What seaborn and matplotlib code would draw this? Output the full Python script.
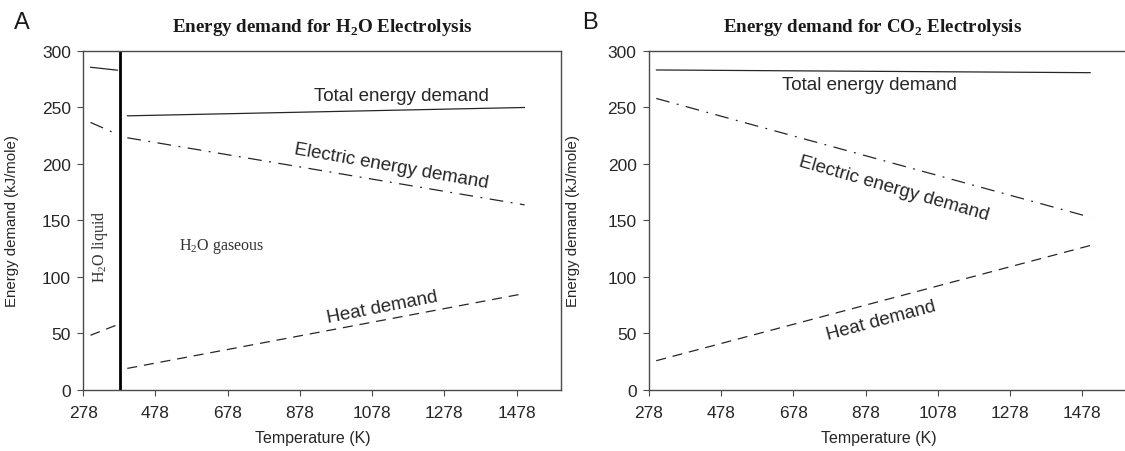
import matplotlib
matplotlib.use("Agg")
import matplotlib.pyplot as plt
import seaborn as sns
import pandas as pd

# ---- data (temperature in K, energy in kJ/mole) ----
h2o_liq_T = [298, 373]
h2o_liq_total = [285.6, 283.0]
h2o_liq_electric = [236.8, 226.2]
h2o_liq_heat = [48.4, 57.8]

h2o_gas_T = [400, 1500]
h2o_gas_total = [242.6, 250.0]
h2o_gas_electric = [223.2, 163.8]
h2o_gas_heat = [19.1, 85.4]

co2_T = [298, 1500]
co2_total = [283.2, 280.8]
co2_electric = [258.0, 152.9]
co2_heat = [25.9, 127.9]

phase_boundary_T = 380

x_ticks = [278, 478, 678, 878, 1078, 1278, 1478]
y_ticks = [0, 50, 100, 150, 200, 250, 300]

sns.set_theme(style="white")
plt.rcParams["font.family"] = ["Liberation Sans", "DejaVu Sans"]
plt.rcParams["mathtext.fontset"] = "custom"
plt.rcParams["mathtext.rm"] = "Liberation Serif"
plt.rcParams["mathtext.bf"] = "Liberation Serif:bold"

LINE_C = "#262626"
SPINE_C = "#4a4a4a"
TEXT_C = "#262626"
styles = {
    "total": dict(linestyle="-"),
    "electric": dict(linestyle=(0, (11, 6, 1.5, 6))),
    "heat": dict(linestyle=(0, (8, 5.5))),
}

fig = plt.figure(figsize=(11.25, 4.52), dpi=100)
axA = fig.add_axes([0.0740, 0.1350, 0.4244, 0.7500])
axB = fig.add_axes([0.5769, 0.1350, 0.4244, 0.7500])


def draw(ax, T, series):
    for key, vals in series.items():
        df = pd.DataFrame({"T": T, "E": vals})
        sns.lineplot(data=df, x="T", y="E", ax=ax, color=LINE_C, lw=0.9,
                     **styles[key])


draw(axA, h2o_liq_T, {"total": h2o_liq_total, "electric": h2o_liq_electric,
                      "heat": h2o_liq_heat})
draw(axA, h2o_gas_T, {"total": h2o_gas_total, "electric": h2o_gas_electric,
                      "heat": h2o_gas_heat})
axA.axvline(phase_boundary_T, color="black", lw=2)

draw(axB, co2_T, {"total": co2_total, "electric": co2_electric,
                  "heat": co2_heat})

for ax in (axA, axB):
    ax.set_xlim(278, 1600)
    ax.set_ylim(0, 300)
    ax.set_xticks(x_ticks)
    ax.set_yticks(y_ticks)
    ax.tick_params(axis="both", direction="out", length=4, width=0.8,
                   color=SPINE_C, labelsize=12.5, labelcolor=TEXT_C,
                   bottom=True, left=True)
    ax.tick_params(axis="x", pad=7)
    ax.tick_params(axis="y", pad=5)
    for s in ax.spines.values():
        s.set_color(SPINE_C)
        s.set_linewidth(1.0)
    ax.set_xlabel("Temperature (K)", fontsize=11.5, color=TEXT_C)
    ax.set_ylabel("Energy demand (kJ/mole)", fontsize=10.8, color=TEXT_C)
    ax.xaxis.set_label_coords(0.481, -0.118)

axA.yaxis.set_label_coords(-0.135, 0.5)
axB.yaxis.set_label_coords(-0.145, 0.5)
axB.spines["right"].set_visible(False)

# titles
axA.text(0.5, 1.072, r"Energy demand for H$_\mathbf{2}$O Electrolysis",
         transform=axA.transAxes, ha="center", va="center", fontsize=13.7,
         fontweight="bold", family="Liberation Serif", color="#1a1a1a")
axB.text(0.469, 1.072, r"Energy demand for CO$_\mathbf{2}$ Electrolysis",
         transform=axB.transAxes, ha="center", va="center", fontsize=13.7,
         fontweight="bold", family="Liberation Serif", color="#1a1a1a")

fig.text(0.0191, 0.950, "A", fontsize=17, ha="center", va="center",
         color="#1a1a1a")
fig.text(0.5244, 0.950, "B", fontsize=17, ha="center", va="center",
         color="#1a1a1a")

# curve labels, panel A
lab = dict(fontsize=13.5, color=TEXT_C, ha="center", va="center",
           rotation_mode="anchor")
axA.text(1160, 261, "Total energy demand", **lab)
axA.text(1132, 198.5, "Electric energy demand", rotation=-10, **lab)
axA.text(1107, 73.6, "Heat demand", rotation=11, **lab)
axA.text(542, 128, r"H$_2$O gaseous", fontsize=11.5, color="#333333",
         family="Liberation Serif", ha="left", va="center")
axA.text(324, 128, r"H$_2$O liquid", fontsize=11.5, color="#333333",
         family="Liberation Serif", ha="center", va="center", rotation=90)

# curve labels, panel B
axB.text(888, 270.5, "Total energy demand", **lab)
axB.text(955, 179, "Electric energy demand", rotation=-16, **lab)
axB.text(920, 62, "Heat demand", rotation=15, **lab)

fig.savefig("out.png", dpi=100, facecolor="white")
